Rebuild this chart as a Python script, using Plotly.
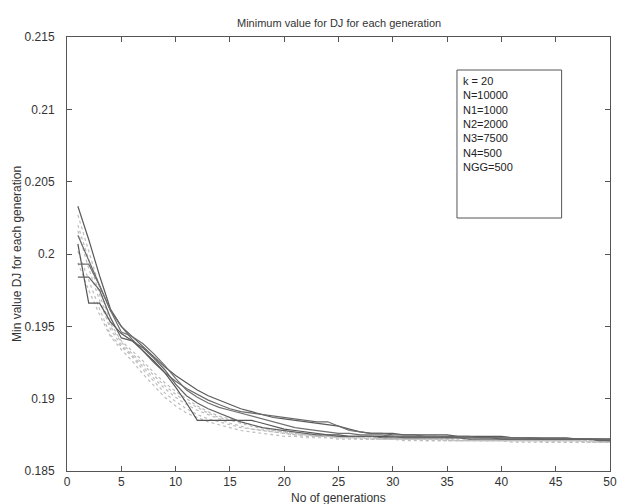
import plotly.graph_objects as go

generations = list(range(1, 51))

solid_runs = [
    [0.2033, 0.2010, 0.1985, 0.1962, 0.1950, 0.1943, 0.1936, 0.1929, 0.1922, 0.1916,
     0.1911, 0.1906, 0.1902, 0.1899, 0.1896, 0.1893, 0.1891, 0.1889, 0.1887, 0.1886,
     0.1885, 0.1884, 0.1883, 0.1882, 0.1881, 0.1879, 0.1877, 0.1876, 0.1876, 0.1876,
     0.1875, 0.1875, 0.1875, 0.1875, 0.1875, 0.1874, 0.1874, 0.1874, 0.1874, 0.1874,
     0.1873, 0.1873, 0.1873, 0.1873, 0.1873, 0.1873, 0.1872, 0.1872, 0.1872, 0.1871],
    [0.2013, 0.1996, 0.1979, 0.1961, 0.1950, 0.1941, 0.1933, 0.1925, 0.1918, 0.1912,
     0.1907, 0.1903, 0.1899, 0.1896, 0.1893, 0.1891, 0.1890, 0.1889, 0.1888, 0.1887,
     0.1886, 0.1885, 0.1884, 0.1884, 0.1881, 0.1878, 0.1877, 0.1876, 0.1876, 0.1875,
     0.1875, 0.1875, 0.1874, 0.1874, 0.1874, 0.1874, 0.1874, 0.1873, 0.1873, 0.1873,
     0.1873, 0.1873, 0.1873, 0.1872, 0.1872, 0.1872, 0.1872, 0.1872, 0.1872, 0.1872],
    [0.2007, 0.1966, 0.1966, 0.1953, 0.1945, 0.1940, 0.1933, 0.1926, 0.1918, 0.1908,
     0.1897, 0.1885, 0.1885, 0.1885, 0.1885, 0.1885, 0.1885, 0.1883, 0.1881, 0.1879,
     0.1878, 0.1877, 0.1876, 0.1875, 0.1875, 0.1874, 0.1874, 0.1874, 0.1874, 0.1874,
     0.1873, 0.1873, 0.1873, 0.1873, 0.1873, 0.1873, 0.1873, 0.1873, 0.1873, 0.1872,
     0.1872, 0.1872, 0.1872, 0.1872, 0.1872, 0.1872, 0.1872, 0.1872, 0.1872, 0.1872],
    [0.1993, 0.1993, 0.1978, 0.1961, 0.1946, 0.1943, 0.1938, 0.1931, 0.1923, 0.1914,
     0.1906, 0.1901, 0.1897, 0.1894, 0.1892, 0.1890, 0.1888, 0.1886, 0.1884, 0.1882,
     0.1880, 0.1879, 0.1878, 0.1877, 0.1876, 0.1876, 0.1875, 0.1875, 0.1875, 0.1874,
     0.1874, 0.1874, 0.1874, 0.1874, 0.1873, 0.1873, 0.1873, 0.1873, 0.1873, 0.1873,
     0.1873, 0.1873, 0.1872, 0.1872, 0.1872, 0.1872, 0.1872, 0.1872, 0.1872, 0.1872],
    [0.1984, 0.1984, 0.1975, 0.1956, 0.1942, 0.1940, 0.1935, 0.1928, 0.1920, 0.1910,
     0.1902, 0.1897, 0.1893, 0.1890, 0.1887, 0.1884, 0.1882, 0.1880, 0.1879, 0.1878,
     0.1877, 0.1876, 0.1875, 0.1875, 0.1874, 0.1874, 0.1874, 0.1874, 0.1873, 0.1873,
     0.1873, 0.1873, 0.1873, 0.1873, 0.1873, 0.1873, 0.1872, 0.1872, 0.1872, 0.1872,
     0.1872, 0.1872, 0.1872, 0.1872, 0.1872, 0.1872, 0.1872, 0.1872, 0.1871, 0.1871],
]

dotted_runs = [
    [0.2027, 0.2002, 0.1976, 0.1952, 0.1940, 0.1933, 0.1926, 0.1918, 0.1911, 0.1905,
     0.1900, 0.1895, 0.1891, 0.1888, 0.1886, 0.1884, 0.1882, 0.1880, 0.1878, 0.1877,
     0.1876, 0.1875, 0.1875, 0.1874, 0.1874, 0.1873, 0.1873, 0.1873, 0.1873, 0.1872,
     0.1872, 0.1872, 0.1872, 0.1872, 0.1872, 0.1872, 0.1872, 0.1871, 0.1871, 0.1871,
     0.1871, 0.1871, 0.1871, 0.1871, 0.1871, 0.1871, 0.1871, 0.1871, 0.1871, 0.1870],
    [0.2016, 0.1990, 0.1968, 0.1948, 0.1937, 0.1930, 0.1922, 0.1914, 0.1907, 0.1901,
     0.1896, 0.1892, 0.1889, 0.1886, 0.1883, 0.1881, 0.1879, 0.1878, 0.1877, 0.1876,
     0.1875, 0.1874, 0.1874, 0.1873, 0.1873, 0.1873, 0.1872, 0.1872, 0.1872, 0.1872,
     0.1872, 0.1872, 0.1871, 0.1871, 0.1871, 0.1871, 0.1871, 0.1871, 0.1871, 0.1871,
     0.1871, 0.1871, 0.1871, 0.1870, 0.1870, 0.1870, 0.1870, 0.1870, 0.1870, 0.1870],
    [0.2002, 0.1982, 0.1962, 0.1944, 0.1936, 0.1929, 0.1920, 0.1912, 0.1904, 0.1898,
     0.1893, 0.1889, 0.1886, 0.1884, 0.1882, 0.1880, 0.1879, 0.1878, 0.1877, 0.1876,
     0.1875, 0.1875, 0.1874, 0.1874, 0.1873, 0.1873, 0.1873, 0.1872, 0.1872, 0.1872,
     0.1872, 0.1872, 0.1872, 0.1872, 0.1871, 0.1871, 0.1871, 0.1871, 0.1871, 0.1871,
     0.1871, 0.1871, 0.1871, 0.1871, 0.1871, 0.1871, 0.1871, 0.1870, 0.1870, 0.1870],
    [0.1994, 0.1975, 0.1958, 0.1943, 0.1934, 0.1926, 0.1917, 0.1909, 0.1901, 0.1895,
     0.1890, 0.1887, 0.1884, 0.1882, 0.1880, 0.1878, 0.1877, 0.1876, 0.1875, 0.1874,
     0.1874, 0.1873, 0.1873, 0.1873, 0.1872, 0.1872, 0.1872, 0.1872, 0.1872, 0.1872,
     0.1871, 0.1871, 0.1871, 0.1871, 0.1871, 0.1871, 0.1871, 0.1871, 0.1871, 0.1871,
     0.1870, 0.1870, 0.1870, 0.1870, 0.1870, 0.1870, 0.1870, 0.1870, 0.1870, 0.1870],
    [0.2020, 0.1996, 0.1972, 0.1950, 0.1939, 0.1931, 0.1924, 0.1916, 0.1909, 0.1903,
     0.1898, 0.1894, 0.1890, 0.1887, 0.1885, 0.1883, 0.1881, 0.1879, 0.1878, 0.1877,
     0.1876, 0.1875, 0.1874, 0.1874, 0.1873, 0.1873, 0.1873, 0.1873, 0.1872, 0.1872,
     0.1872, 0.1872, 0.1872, 0.1872, 0.1872, 0.1871, 0.1871, 0.1871, 0.1871, 0.1871,
     0.1871, 0.1871, 0.1871, 0.1871, 0.1871, 0.1871, 0.1871, 0.1871, 0.1870, 0.1870],
]

x_ticks = [0, 5, 10, 15, 20, 25, 30, 35, 40, 45, 50]
y_ticks = [0.185, 0.19, 0.195, 0.2, 0.205, 0.21, 0.215]
y_tick_labels = ["0.185", "0.19", "0.195", "0.2", "0.205", "0.21", "0.215"]

info_lines = ["k = 20", "N=10000", "N1=1000", "N2=2000", "N3=7500", "N4=500", "NGG=500"]

title_text = "Minimum value for DJ for each generation"
x_title = "No of generations"
y_title = "Min value DJ for each generation"

fig = go.Figure()

for run in dotted_runs:
    fig.add_trace(go.Scatter(x=generations, y=run, mode="lines",
                             line=dict(color="#bdbdbd", width=1.2, dash="dot"),
                             showlegend=False, hoverinfo="skip"))

solid_colors = ["#5a5a5a", "#6a6a6a", "#555555", "#707070", "#626262"]
for run, c in zip(solid_runs, solid_colors):
    fig.add_trace(go.Scatter(x=generations, y=run, mode="lines",
                             line=dict(color=c, width=1.2),
                             showlegend=False, hoverinfo="skip"))

font_family = "Liberation Sans, Arial, sans-serif"
axis_common = dict(showgrid=False, zeroline=False, showline=True, linecolor="#555555",
                   linewidth=1, mirror="allticks", ticks="inside", ticklen=5,
                   tickcolor="#555555", tickfont=dict(family=font_family, size=12, color="#333333"))

# page body has an 8px margin, so the figure is sized to leave the plot area at
# x 67..617, y 37..471 of the 625x504 window
PW = 550.0
PH = 434.0
fig.update_layout(
    width=617, height=496,
    margin=dict(l=59, r=8, t=29, b=33),
    paper_bgcolor="white", plot_bgcolor="white",
    xaxis=dict(range=[0, 50], tickvals=x_ticks, **axis_common),
    yaxis=dict(range=[0.185, 0.215], tickvals=y_ticks, ticktext=y_tick_labels,
               ticklabelstandoff=9, **axis_common),
    font=dict(family=font_family, color="#333333"),
)

# info box
fig.add_shape(type="rect", xref="paper", yref="paper",
              x0=(462 - 67) / PW, x1=(568 - 67) / PW,
              y0=1 - (218 - 37) / PH, y1=1 - (70 - 37) / PH,
              line=dict(color="#555555", width=1), fillcolor="white", layer="above")
fig.add_annotation(xref="paper", yref="paper", x=(466 - 67) / PW, y=1 - (73 - 37) / PH,
                   xanchor="left", yanchor="top", align="left", showarrow=False,
                   text="<br>".join(info_lines),
                   font=dict(family=font_family, size=11, color="#222222"))

# titles
fig.add_annotation(xref="paper", yref="paper", x=0.5, y=1, yshift=6,
                   xanchor="center", yanchor="bottom", showarrow=False,
                   text=title_text, font=dict(family=font_family, size=11, color="#333333"))
fig.add_annotation(xref="paper", yref="paper", x=0.5, y=0, yshift=-18,
                   xanchor="center", yanchor="top", showarrow=False,
                   text=x_title, font=dict(family=font_family, size=12, color="#333333"))
fig.add_annotation(xref="paper", yref="paper", x=0, y=0.5, xshift=-50,
                   xanchor="center", yanchor="middle", textangle=-90, showarrow=False,
                   text=y_title, font=dict(family=font_family, size=12, color="#333333"))

fig.write_html("out.html")
